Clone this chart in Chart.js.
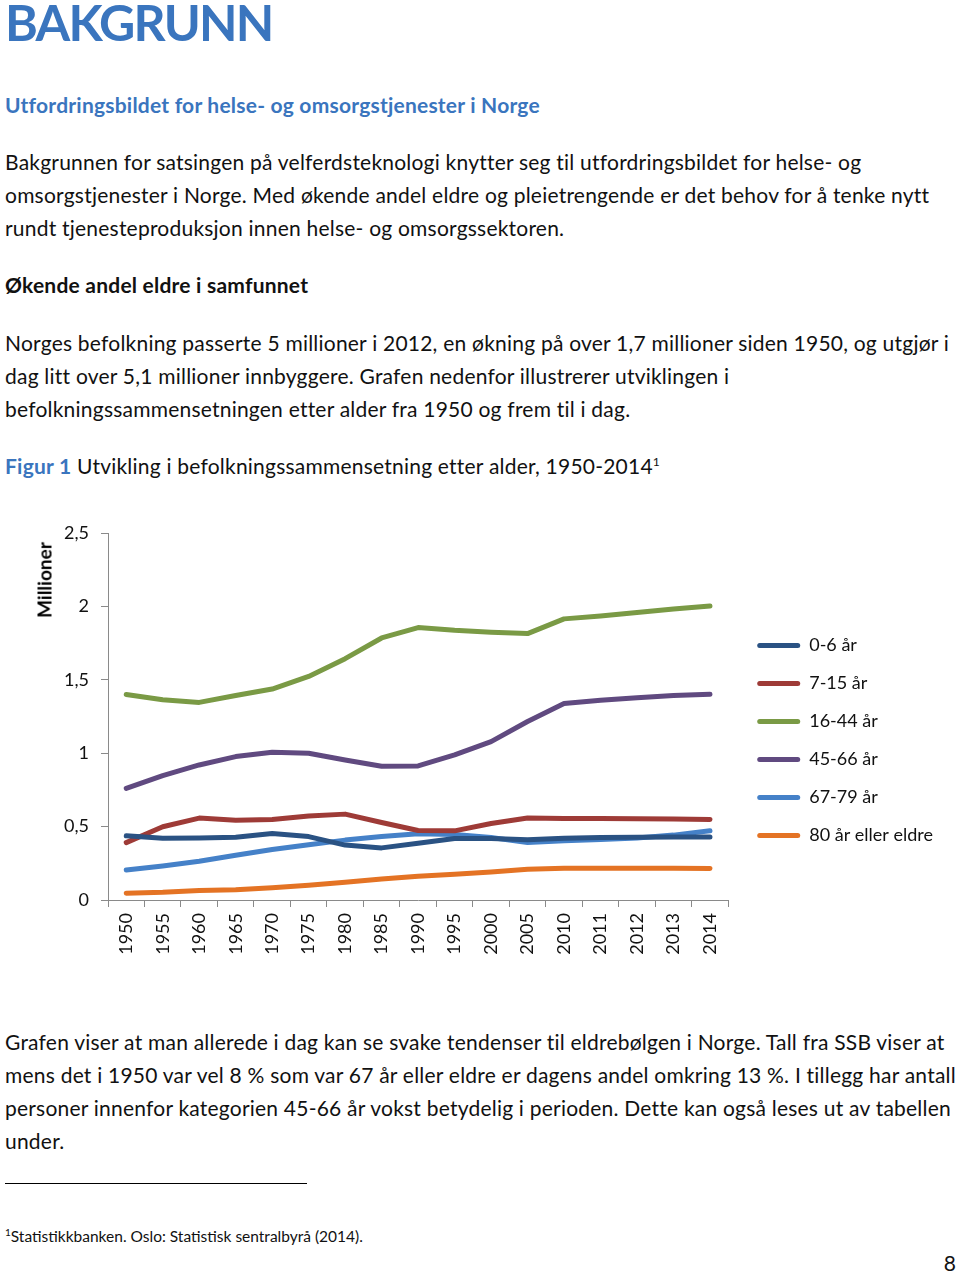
<!DOCTYPE html>
<html lang="no">
<head>
<meta charset="utf-8">
<title>Bakgrunn</title>
<script src="https://cdn.jsdelivr.net/npm/chart.js@4.4.1/dist/chart.umd.min.js"></script>
<style>
  body { margin: 0; width: 960px; height: 1276px; position: relative; background: #fff; overflow: hidden;
         font-family: Lato, "Open Sans", sans-serif; color: #111; }
  .t { position: absolute; left: 5px; white-space: nowrap; font-size: 21px; letter-spacing: 0.22px; line-height: 33px; margin: 0; }
  .blue { color: #3a75be; }
  h1.t { font-size: 50px; font-weight: 700; line-height: 50px; top: -3px; letter-spacing: -1.8px; }
  h2.t, h3.t { font-weight: 700; }
  #chartBox { position: absolute; left: 0; top: 500px; width: 960px; height: 470px; }
  #yTitle { position: absolute; left: 44px; top: 580px; transform: translate(-50%, -50%) rotate(-90deg);
            font-weight: 700; font-size: 19px; white-space: nowrap; color: #000; }
  .rule { position: absolute; left: 5px; top: 1183px; width: 302px; height: 1px; background: #000; }
  .foot { font-size: 15.5px; letter-spacing: 0; top: 1216px; }
  .page { position: absolute; right: 4px; top: 1250px; font-size: 21px; }
</style>
</head>
<body>

<h1 class="t blue">BAKGRUNN</h1>
<h2 class="t blue" style="top:88px">Utfordringsbildet for helse- og omsorgstjenester i Norge</h2>

<p class="t" style="top:145px">Bakgrunnen for satsingen på velferdsteknologi knytter seg til utfordringsbildet for helse- og<br>omsorgstjenester i Norge. Med økende andel eldre og pleietrengende er det behov for å tenke nytt<br>rundt tjenesteproduksjon innen helse- og omsorgssektoren.</p>

<h3 class="t" style="top:268px">Økende andel eldre i samfunnet</h3>

<p class="t" style="top:326px">Norges befolkning passerte 5 millioner i 2012, en økning på over 1,7 millioner siden 1950, og utgjør i<br>dag litt over 5,1 millioner innbyggere. Grafen nedenfor illustrerer utviklingen i<br>befolkningssammensetningen etter alder fra 1950 og frem til i dag.</p>

<p class="t" style="top:445px"><b class="blue">Figur 1</b> Utvikling i befolkningssammensetning etter alder, 1950-2014<sup style="font-size:12px">1</sup></p>

<div id="chartBox"><canvas id="popChart"></canvas></div>
<div id="yTitle">Millioner</div>

<p class="t" style="top:1025px">Grafen viser at man allerede i dag kan se svake tendenser til eldrebølgen i Norge. Tall fra SSB viser at<br>mens det i 1950 var vel 8 % som var 67 år eller eldre er dagens andel omkring 13 %. I tillegg har antall<br>personer innenfor kategorien 45-66 år vokst betydelig i perioden. Dette kan også leses ut av tabellen<br>under.</p>

<div class="rule"></div>
<p class="t foot"><sup style="font-size:10px">1</sup>Statistikkbanken. Oslo: Statistisk sentralbyrå (2014).</p>
<div class="page">8</div>

<script>
'use strict';

// years on the x axis
let years = ['1950', '1955', '1960', '1965', '1970', '1975', '1980', '1985', '1990',
  '1995', '2000', '2005', '2010', '2011', '2012', '2013', '2014'];

// population in millions
let age0to6 = [0.437, 0.421, 0.423, 0.428, 0.453, 0.432, 0.374, 0.355, 0.387,
  0.419, 0.419, 0.410, 0.421, 0.426, 0.428, 0.430, 0.430];
let age7to15 = [0.391, 0.499, 0.558, 0.544, 0.548, 0.572, 0.585, 0.528, 0.473,
  0.471, 0.521, 0.558, 0.556, 0.555, 0.553, 0.551, 0.548];
let age16to44 = [1.400, 1.364, 1.346, 1.393, 1.437, 1.523, 1.644, 1.785, 1.856,
  1.837, 1.824, 1.815, 1.915, 1.935, 1.958, 1.983, 2.003];
let age45to66 = [0.760, 0.847, 0.920, 0.977, 1.006, 1.000, 0.954, 0.911, 0.913,
  0.988, 1.079, 1.216, 1.339, 1.360, 1.378, 1.393, 1.402];
let age67to79 = [0.205, 0.232, 0.264, 0.305, 0.344, 0.376, 0.408, 0.432, 0.451,
  0.446, 0.426, 0.391, 0.403, 0.412, 0.423, 0.442, 0.471];
let age80plus = [0.046, 0.052, 0.064, 0.070, 0.084, 0.100, 0.121, 0.143, 0.162,
  0.175, 0.191, 0.210, 0.216, 0.216, 0.216, 0.216, 0.214];

let seriesNames = ['0-6 år', '7-15 år', '16-44 år', '45-66 år', '67-79 år', '80 år eller eldre'];
let seriesValues = [age0to6, age7to15, age16to44, age45to66, age67to79, age80plus];
let seriesColors = ['#2a5283', '#9e3b37', '#7a9a45', '#604a80', '#4581c8', '#e47324'];

let yTicks = [0, 0.5, 1, 1.5, 2, 2.5];

let datasets = [];
for (let i = 0; i < seriesNames.length; i++) {
  datasets.push({
    label: seriesNames[i],
    data: seriesValues[i],
    borderColor: seriesColors[i],
    backgroundColor: seriesColors[i],
    borderWidth: 5,
    borderJoinStyle: 'round',
    borderCapStyle: 'round',
    pointRadius: 0,
    tension: 0
  });
}

let axisColor = '#8a8a8a';
let tickFont = { family: 'Lato, "Open Sans", sans-serif', size: 18 };

// nudge the legend block so it sits where the original one does
const legendNudge = {
  id: 'legendNudge',
  afterLayout: function(chart) {
    let lg = chart.legend;
    lg.top -= 11; lg.bottom -= 11;
    lg.left += 9; lg.right += 9;
  }
};

const config = {
  type: 'line',
  data: { labels: years, datasets: datasets },
  plugins: [legendNudge],
  options: {
    responsive: true,
    maintainAspectRatio: false,
    animation: false,
    layout: { padding: { top: 33, right: 26, left: 0, bottom: 0 } },
    plugins: {
      tooltip: { enabled: false },
      legend: {
        position: 'right',
        labels: {
          boxWidth: 43,
          boxHeight: 5,
          padding: 20,
          color: '#111',
          font: tickFont,
          useBorderRadius: true,
          borderRadius: 2.5,
          generateLabels: function(chart) {
            let items = Chart.defaults.plugins.legend.labels.generateLabels(chart);
            items.forEach(function(item) { item.lineWidth = 0; });
            return items;
          }
        }
      }
    },
    scales: {
      x: {
        type: 'category',
        offset: true,
        grid: { display: true, drawOnChartArea: false, offset: true, color: axisColor, tickLength: 7 },
        border: { color: axisColor },
        ticks: { color: '#111', font: tickFont, maxRotation: 90, minRotation: 90, padding: 6, autoSkip: false },
        afterFit: function(scale) { scale.height = 70; }
      },
      y: {
        min: 0,
        max: 2.5,
        afterBuildTicks: function(scale) {
          scale.ticks = yTicks.map(function(v) { return { value: v }; });
        },
        grid: { display: true, drawOnChartArea: false, color: axisColor, tickLength: 7 },
        border: { color: axisColor },
        ticks: {
          color: '#111',
          font: tickFont,
          padding: 12,
          callback: function(value) { return String(value).replace('.', ','); }
        },
        afterFit: function(scale) { scale.width = 108; }
      }
    }
  }
};

const popChart = new Chart(document.getElementById('popChart'), config);
</script>
</body>
</html>
